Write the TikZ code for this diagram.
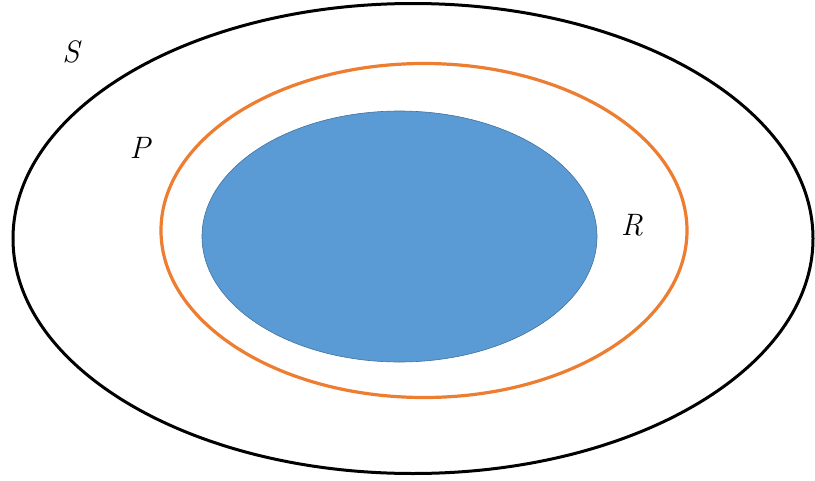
\documentclass[tikz,border=0pt]{standalone}
\usepackage{fontspec}
\usepackage{tikz}
\usetikzlibrary{positioning}
\definecolor{setblue}{HTML}{5B9BD5}
\definecolor{setborder}{HTML}{41719C}
\definecolor{setorange}{HTML}{ED7D31}
\tikzset{
    outerset/.style={draw=black, line width=3pt},
    midset/.style={draw=setorange, line width=3.2pt},
    innerset/.style={draw=setborder, line width=0.6pt, fill=setblue},
    setlabel/.style={font=\fontsize{31}{34}\selectfont\itshape, inner sep=0pt},
}
\begin{document}
\begin{tikzpicture}[x=1pt, y=-1pt]

    \useasboundingbox (0, 0) rectangle (815, 480);

    % Sets
    \draw[outerset] (413, 238.5) ellipse (400 and 235);
    \draw[midset] (424, 230.5) ellipse (263 and 167);
    \draw[innerset] (399.5, 236.5) ellipse (197.5 and 125.5);

    % Labels
    \node[setlabel] (lblS) at (71, 51.5) {S};
    \node[setlabel] (lblP) at (140, 147.5) {P};
    \node[setlabel] (lblR) at (632, 225) {R};

\end{tikzpicture}
\end{document}
